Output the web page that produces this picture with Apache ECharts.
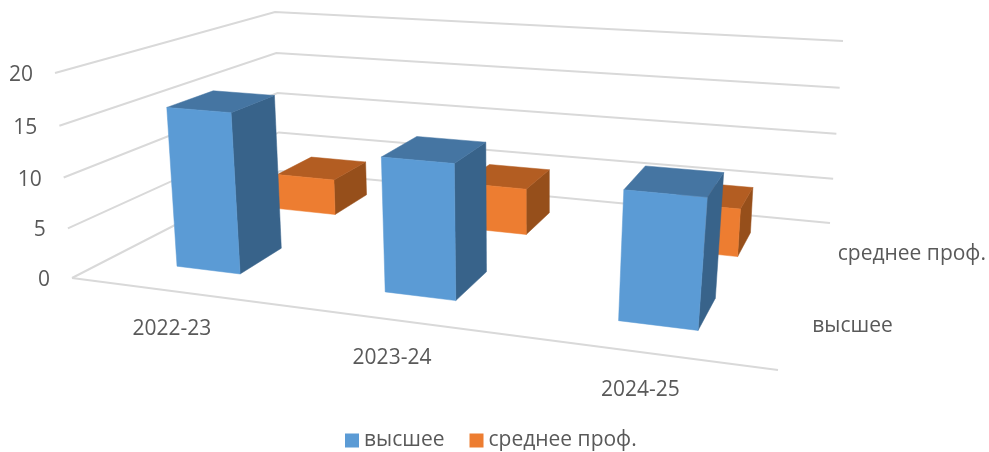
<!DOCTYPE html>
<html>
<head>
<meta charset="utf-8">
<style>
  html, body { margin: 0; padding: 0; background: #fff; }
  #chart { width: 989px; height: 452px; }
</style>
<script src="https://cdn.jsdelivr.net/npm/echarts@6/dist/echarts.min.js"></script>
</head>
<body>
<div id="chart"></div>
<script>
const categories = ["2022-23", "2023-24", "2024-25"];
const seriesNames = ["высшее", "среднее проф."];
const higherValues = [16, 13, 12];
const vocationalValues = [4, 5, 5];
const valueTicks = [0, 5, 10, 15, 20];

const textColor = "#595959";
const fontFamily = "'Open Sans', 'Noto Sans', sans-serif";
const fontSize = 21;

// pixel corners of the 3d box: floor and the plane at axis max
const floorBox = [[72, 278], [778, 370], [830, 223], [280, 171]];
const topBox = [[55, 73], [805, 130], [843, 41], [275, 12]];

const GRID_W = 300;
const GRID_H = 100;
const BAR_W = 0.315; // part of a category
const BAR_D = 0.4; // part of a series row

function homography(p) {
  const [p0, p1, p2, p3] = p;
  const dx1 = p1[0] - p2[0], dx2 = p3[0] - p2[0], sx = p0[0] - p1[0] + p2[0] - p3[0];
  const dy1 = p1[1] - p2[1], dy2 = p3[1] - p2[1], sy = p0[1] - p1[1] + p2[1] - p3[1];
  const den = dx1 * dy2 - dx2 * dy1;
  const g = (sx * dy2 - dx2 * sy) / den;
  const h = (dx1 * sy - sx * dy1) / den;
  const a = p1[0] - p0[0] + g * p1[0], b = p3[0] - p0[0] + h * p3[0];
  const d = p1[1] - p0[1] + g * p1[1], e = p3[1] - p0[1] + h * p3[1];
  return (u, v) => {
    const q = g * u + h * v + 1;
    return [(a * u + b * v + p0[0]) / q, (d * u + e * v + p0[1]) / q];
  };
}
const floorAt = homography(floorBox);
const topAt = homography(topBox);

// u along categories, v into the depth, w up the value axis (all 0..1)
function project(u, v, w) {
  const t = w * (1 - 0.04 * (1 - w));
  const a = floorAt(u, v);
  const b = topAt(u, v);
  return [a[0] + (b[0] - a[0]) * t, a[1] + (b[1] - a[1]) * t];
}

function face(points, fill) {
  return {
    type: "polygon",
    shape: { points: points },
    style: { fill: fill, stroke: fill, lineWidth: 0.5 }
  };
}

function barSeries(name, values, row, colors) {
  return {
    name: name,
    type: "custom",
    coordinateSystem: "cartesian2d",
    itemStyle: { color: colors[0] },
    silent: true,
    z: 10 - row,
    data: values.map((v, i) => [i, v]),
    renderItem: function (params, api) {
      const c = api.coord([api.value(0), api.value(1)]);
      const band = api.size([1, 0])[0] / GRID_W;
      const uc = c[0] / GRID_W;
      const w = (GRID_H - c[1]) / GRID_H;
      const u0 = uc - band * BAR_W / 2, u1 = uc + band * BAR_W / 2;
      const vc = (row + 0.5) / seriesNames.length;
      const dd = BAR_D / seriesNames.length / 2;
      const v0 = vc - dd, v1 = vc + dd;
      return {
        type: "group",
        children: [
          face([project(u1, v0, 0), project(u1, v1, 0), project(u1, v1, w), project(u1, v0, w)], colors[2]),
          face([project(u0, v0, w), project(u1, v0, w), project(u1, v1, w), project(u0, v1, w)], colors[1]),
          face([project(u0, v0, 0), project(u1, v0, 0), project(u1, v0, w), project(u0, v0, w)], colors[0])
        ]
      };
    }
  };
}

function label(pos, text, align) {
  return {
    type: "text",
    x: pos[0],
    y: pos[1],
    style: {
      text: text,
      fill: textColor,
      font: fontSize + "px " + fontFamily,
      textAlign: align,
      textVerticalAlign: "middle"
    }
  };
}

// walls, floor edges and all axis texts
function renderFrame(params, api) {
  const children = [];
  const lineStyle = { stroke: "#D9D9D9", lineWidth: 2, fill: "none" };
  valueTicks.forEach((t) => {
    const w = t / valueTicks[valueTicks.length - 1];
    children.push({
      type: "polyline",
      shape: { points: [project(0, 0, w), project(0, 1, w), project(1, 1, w)] },
      style: lineStyle
    });
    const p = project(0, 0, w);
    children.push(label([p[0] - 22, p[1] + 2], String(t), "right"));
  });
  children.push({
    type: "line",
    shape: { x1: floorBox[0][0], y1: floorBox[0][1], x2: floorBox[1][0], y2: floorBox[1][1] },
    style: lineStyle
  });
  categories.forEach((c, i) => {
    const p = project((i + 0.5) / categories.length, 0, 0);
    children.push(label([p[0] - 1, p[1] + 38], c, "center"));
  });
  seriesNames.forEach((s, i) => {
    const p = project(1, (i + 0.5) / seriesNames.length, 0);
    children.push(label([p[0] + 18, p[1] + 2], s, "left"));
  });
  return { type: "group", children: children };
}

const chart = echarts.init(document.getElementById("chart"));
chart.setOption({
  animation: false,
  backgroundColor: "#fff",
  textStyle: { fontFamily: fontFamily },
  legend: {
    data: seriesNames,
    left: 340,
    top: 425,
    icon: "rect",
    itemWidth: 14,
    itemHeight: 14,
    itemGap: 25,
    textStyle: { color: textColor, fontSize: fontSize, fontFamily: fontFamily },
    selectedMode: false
  },
  grid: { left: 0, top: 0, width: GRID_W, height: GRID_H },
  xAxis: { type: "category", data: categories, show: false },
  yAxis: { type: "value", min: 0, max: 20, interval: 5, show: false },
  series: [
    {
      type: "custom",
      coordinateSystem: "none",
      silent: true,
      z: 1,
      data: [0],
      renderItem: renderFrame
    },
    barSeries(seriesNames[1], vocationalValues, 1, ["#ED7D31", "#B35D22", "#964F1B"]),
    barSeries(seriesNames[0], higherValues, 0, ["#5B9BD5", "#4575A2", "#38638A"])
  ]
});
</script>
</body>
</html>
